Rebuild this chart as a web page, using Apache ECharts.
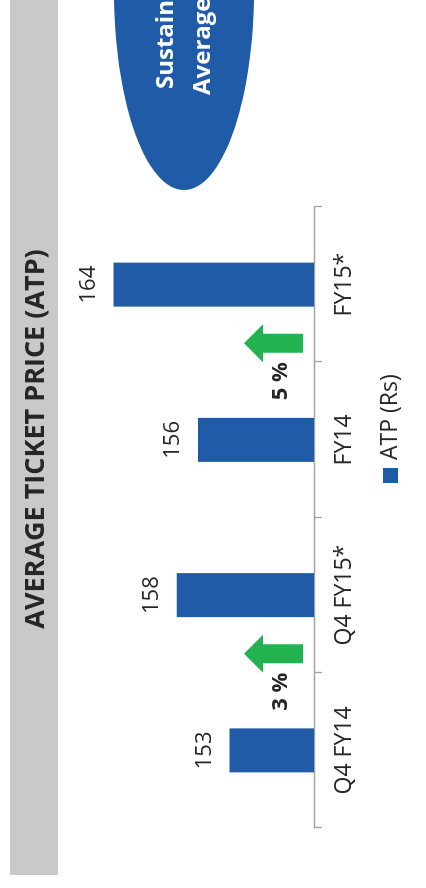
<!DOCTYPE html>
<html>
<head>
<meta charset="utf-8">
<script src="https://cdn.jsdelivr.net/npm/echarts@6/dist/echarts.min.js"></script>
<style>
  html, body { margin: 0; padding: 0; width: 426px; height: 888px; overflow: hidden; background: #fff; }
  /* The slide is laid out landscape and turned a quarter-turn counter-clockwise */
  #stage {
    position: absolute; left: 0; top: 0;
    width: 888px; height: 426px;
    transform-origin: 0 0;
    transform: translateY(888px) rotate(-90deg);
  }
</style>
</head>
<body>
<div id="stage"></div>
<script>
// ---- data ----
const categories = ['Q4 FY14', 'Q4 FY15*', 'FY14', 'FY15*'];
const atpValues = [153, 158, 156, 164];
const growthPairs = [[0, 1], [2, 3]];
const growthLabels = ['3 %', '5 %'];
const seriesName = 'ATP (Rs)';
const titleText = 'AVERAGE TICKET PRICE (ATP)';
const calloutLines = ['Sustain', 'Average'];

// ---- styles ----
const BLUE = '#1f5ba6';
const GREEN = '#22b24f';
const INK = '#262626';
const FONT = '"Open Sans", "Noto Sans", sans-serif';

const chart = echarts.init(document.getElementById('stage'), null, { renderer: 'canvas' });

const baseGraphics = [
  // grey title band
  { type: 'rect', id: 'band', silent: true, z: 0,
    shape: { x: 13, y: 10, width: 900, height: 48 },
    style: { fill: '#c8c9cb' } },
  { type: 'text', id: 'title', silent: true, z: 1,
    x: 449, y: 36,
    style: { text: titleText, fill: INK, font: 'bold 27px ' + FONT, align: 'center', verticalAlign: 'middle' } },
  // blue callout bubble
  { type: 'ellipse', id: 'bubble', silent: true, z: 0,
    shape: { cx: 898, cy: 184, rx: 200, ry: 70 },
    style: { fill: BLUE } },
  { type: 'text', id: 'call0', silent: true, z: 1,
    x: 799, y: 166,
    style: { text: calloutLines[0], fill: '#fff', font: 'bold 24px ' + FONT, align: 'left', verticalAlign: 'middle' } },
  { type: 'text', id: 'call1', silent: true, z: 1,
    x: 793, y: 203,
    style: { text: calloutLines[1], fill: '#fff', font: 'bold 24px ' + FONT, align: 'left', verticalAlign: 'middle' } }
];

chart.setOption({
  animation: false,
  backgroundColor: '#fff',
  grid: { left: 60, right: 207, top: 103, bottom: 112, containLabel: false },
  legend: {
    left: 400, top: 374,
    icon: 'rect', itemWidth: 15, itemHeight: 15,
    textStyle: { fontSize: 23, fontFamily: FONT, color: INK, padding: [0, 0, 0, 3] },
    data: [seriesName]
  },
  xAxis: {
    type: 'category',
    data: categories,
    axisLine: { lineStyle: { color: '#a3a3a6', width: 1.3 } },
    axisTick: { show: true, length: 8, lineStyle: { color: '#a3a3a6', width: 1.3 } },
    axisLabel: { margin: 19, fontSize: 23, fontFamily: FONT, color: INK }
  },
  yAxis: {
    type: 'value', min: 145, max: 165,
    show: false,
    splitLine: { show: false }
  },
  series: [{
    name: seriesName,
    type: 'bar',
    data: atpValues,
    barWidth: 44,
    itemStyle: { color: BLUE },
    label: { show: true, position: 'top', distance: 14, fontSize: 22, fontFamily: FONT, color: INK }
  }],
  graphic: baseGraphics
});

// growth arrows and percentages, placed against the category axis
const axisY = chart.convertToPixel({ yAxisIndex: 0 }, 145);
const arrowGraphics = [];
growthPairs.forEach(function (pair, i) {
  const a = chart.convertToPixel({ xAxisIndex: 0 }, pair[0]);
  const b = chart.convertToPixel({ xAxisIndex: 0 }, pair[1]);
  const boundary = (a + b) / 2;
  const cx = boundary + 19;
  arrowGraphics.push({
    type: 'polygon', id: 'arrow' + i, silent: true, z: 2,
    shape: { points: [
      [cx, axisY - 70],
      [cx + 19, axisY - 51],
      [cx + 9.5, axisY - 51],
      [cx + 9.5, axisY - 11],
      [cx - 9.5, axisY - 11],
      [cx - 9.5, axisY - 51],
      [cx - 19, axisY - 51]
    ] },
    style: { fill: GREEN }
  });
  arrowGraphics.push({
    type: 'text', id: 'pct' + i, silent: true, z: 2,
    x: boundary - 19, y: axisY - 33,
    style: { text: growthLabels[i], fill: INK, font: 'bold 22px ' + FONT, align: 'center', verticalAlign: 'middle' }
  });
});
chart.setOption({ graphic: baseGraphics.concat(arrowGraphics) });
</script>
</body>
</html>
